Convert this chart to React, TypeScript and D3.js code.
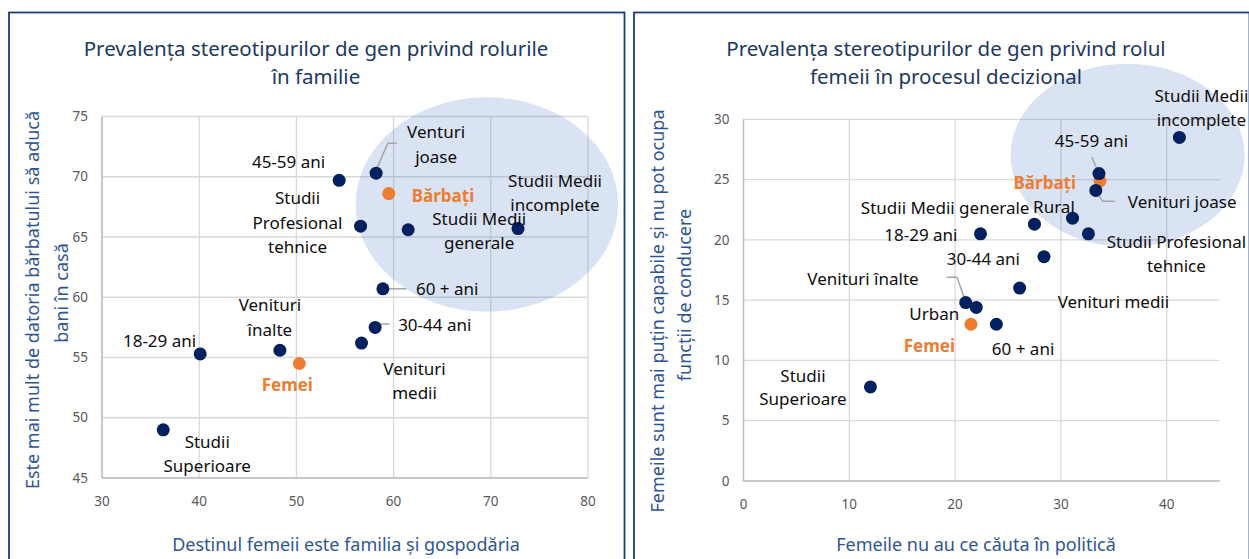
import { useEffect, useRef } from "react";
import * as d3 from "d3";

// Grafic 1: rolurile în familie
const familyGroups = [
	"45-59 ani", "Venturi joase", "Bărbați", "Studii Profesional tehnice",
	"Studii Medii generale", "Studii Medii incomplete", "60 + ani", "30-44 ani",
	"Venituri medii", "Venituri înalte", "18-29 ani", "Femei", "Studii Superioare"
];
const familyX = [54.4, 58.2, 59.5, 56.6, 61.5, 72.8, 58.9, 58.1, 56.7, 48.3, 40.1, 50.3, 36.3];
const familyY = [69.7, 70.3, 68.6, 65.9, 65.6, 65.7, 60.7, 57.5, 56.2, 55.6, 55.3, 54.5, 49.0];
const familyXTicks = [30, 40, 50, 60, 70, 80];
const familyYTicks = [45, 50, 55, 60, 65, 70, 75];

// Grafic 2: rolul femeii în procesul decizional
const decisionGroups = [
	"Studii Medii incomplete", "45-59 ani", "Bărbați", "Venituri joase", "Rural",
	"Studii Medii generale", "Studii Profesional tehnice", "18-29 ani", "30-44 ani",
	"Venituri medii", "Venituri înalte", "Urban", "Femei", "60 + ani", "Studii Superioare"
];
const decisionX = [41.2, 33.6, 33.7, 33.3, 31.1, 27.5, 32.6, 22.4, 28.4, 26.1, 21.0, 22.0, 21.5, 23.9, 12.0];
const decisionY = [28.5, 25.5, 24.9, 24.1, 21.8, 21.3, 20.5, 20.5, 18.6, 16.0, 14.8, 14.4, 13.0, 13.0, 7.8];
const decisionXTicks = [0, 10, 20, 30, 40];
const decisionYTicks = [0, 5, 10, 15, 20, 25, 30];

// highlighted series (orange)
const genderGroups = ["Bărbați", "Femei"];

type Label = {
	lines: string[];
	anchor: "start" | "middle" | "end";
	dx: number;
	dy: number;
	leader?: [number, number][];
};

// label placement, offsets in px from the point
const familyLabels: Record<string, Label> = {
	"45-59 ani": { lines: ["45-59 ani"], anchor: "end", dx: -14, dy: -18 },
	"Venturi joase": { lines: ["Venturi", "joase"], anchor: "middle", dx: 60, dy: -41, leader: [[0, -3], [11.7, -30], [20.7, -30]] },
	"Bărbați": { lines: ["Bărbați"], anchor: "start", dx: 23, dy: 2 },
	"Studii Profesional tehnice": { lines: ["Studii", "Profesional", "tehnice"], anchor: "middle", dx: -63, dy: -28 },
	"Studii Medii generale": { lines: ["Studii Medii", "generale"], anchor: "middle", dx: 71, dy: -11 },
	"Studii Medii incomplete": { lines: ["Studii Medii", "incomplete"], anchor: "middle", dx: 37, dy: -48 },
	"60 + ani": { lines: ["60 + ani"], anchor: "start", dx: 33, dy: 0, leader: [[0, 0], [23.5, 0]] },
	"30-44 ani": { lines: ["30-44 ani"], anchor: "start", dx: 23, dy: -2, leader: [[0, 0], [5, -3.4], [14.3, -3.4]] },
	"Venituri medii": { lines: ["Venituri", "medii"], anchor: "middle", dx: 53, dy: 26 },
	"Venituri înalte": { lines: ["Venituri", "înalte"], anchor: "middle", dx: -10, dy: -45 },
	"18-29 ani": { lines: ["18-29 ani"], anchor: "end", dx: -4, dy: -13 },
	"Femei": { lines: ["Femei"], anchor: "middle", dx: -12, dy: 22 },
	"Studii Superioare": { lines: ["Studii", "Superioare"], anchor: "middle", dx: 44, dy: 12 }
};

const decisionLabels: Record<string, Label> = {
	"Studii Medii incomplete": { lines: ["Studii Medii", "incomplete"], anchor: "middle", dx: 22, dy: -41 },
	"45-59 ani": { lines: ["45-59 ani"], anchor: "middle", dx: -7.5, dy: -33, leader: [[-7.3, -16.6], [-0.7, -1.6]] },
	"Bărbați": { lines: ["Bărbați"], anchor: "end", dx: -24, dy: 2 },
	"Venituri joase": { lines: ["Venituri joase"], anchor: "start", dx: 32, dy: 12, leader: [[0, 0], [6.7, 10.7], [19, 10.7]] },
	"Rural": { lines: ["Rural"], anchor: "middle", dx: -18.6, dy: -11.6 },
	"Studii Medii generale": { lines: ["Studii Medii generale"], anchor: "end", dx: -5, dy: -15.7 },
	"Studii Profesional tehnice": { lines: ["Studii Profesional", "tehnice"], anchor: "middle", dx: 88, dy: 8.4 },
	"18-29 ani": { lines: ["18-29 ani"], anchor: "end", dx: -23, dy: 1 },
	"30-44 ani": { lines: ["30-44 ani"], anchor: "end", dx: -24, dy: 2 },
	"Venituri medii": { lines: ["Venituri medii"], anchor: "start", dx: 38, dy: 14 },
	"Venituri înalte": { lines: ["Venituri înalte"], anchor: "end", dx: -47, dy: -23.5, leader: [[-19.2, -25.4], [-8.7, -25.4], [0, -1]] },
	"Urban": { lines: ["Urban"], anchor: "end", dx: -17, dy: 7 },
	"Femei": { lines: ["Femei"], anchor: "end", dx: -16, dy: 22 },
	"60 + ani": { lines: ["60 + ani"], anchor: "start", dx: -4.5, dy: 25 },
	"Studii Superioare": { lines: ["Studii", "Superioare"], anchor: "middle", dx: -67.5, dy: -11.3 }
};

const FONT = "'Noto Sans', sans-serif";
const NAVY = "#002060";
const ORANGE = "#ED7D31";

type Panel = {
	frameX: number;
	title: string[];
	titleX: number;
	xTitle: string;
	xTitleX: number;
	yTitle: { text: string; x: number; y: number }[];
	xDomain: [number, number];
	xRange: [number, number];
	yDomain: [number, number];
	yRange: [number, number];
	xTicks: number[];
	yTicks: number[];
	groups: string[];
	xs: number[];
	ys: number[];
	labels: Record<string, Label>;
	ellipse: { cx: number; cy: number; rx: number; ry: number };
	lineGap: number;
};

export default function App() {
	const ref = useRef<SVGSVGElement>(null);

	useEffect(() => {
		const svg = d3.select(ref.current);
		svg.selectAll("*").remove();

		const panels: Panel[] = [
			{
				frameX: 9,
				title: ["Prevalența stereotipurilor de gen privind rolurile", "în familie"],
				titleX: 316,
				xTitle: "Destinul femeii este familia și gospodăria",
				xTitleX: 346,
				yTitle: [
					{ text: "Este mai mult de datoria bărbatului să aducă", x: 33, y: 300 },
					{ text: "bani în casă", x: 62, y: 293 }
				],
				xDomain: [30, 80],
				xRange: [102, 588],
				yDomain: [45, 75],
				yRange: [478, 116.5],
				xTicks: familyXTicks,
				yTicks: familyYTicks,
				groups: familyGroups,
				xs: familyX,
				ys: familyY,
				labels: familyLabels,
				ellipse: { cx: 69.6, cy: 67.7, rx: 13.5, ry: 8.9 },
				lineGap: 24.5
			},
			{
				frameX: 634,
				title: ["Prevalența stereotipurilor de gen privind rolul", "femeii în procesul decizional"],
				titleX: 946,
				xTitle: "Femeile nu au ce căuta în politică",
				xTitleX: 976,
				yTitle: [
					{ text: "Femeile sunt mai puțin capabile și nu pot ocupa", x: 658, y: 311 },
					{ text: "funcții de conducere", x: 685, y: 295 }
				],
				xDomain: [0, 45],
				xRange: [743.5, 1219.6],
				yDomain: [0, 30],
				yRange: [481, 119.3],
				xTicks: decisionXTicks,
				yTicks: decisionYTicks,
				groups: decisionGroups,
				xs: decisionX,
				ys: decisionY,
				labels: decisionLabels,
				ellipse: { cx: 36.3, cy: 27.0, rx: 11.06, ry: 7.6 },
				lineGap: 23.5
			}
		];

		panels.forEach(p => {
			const g = svg.append("g").attr("font-family", FONT);

			// Frame
			g.append("rect")
				.attr("x", p.frameX)
				.attr("y", 12.5)
				.attr("width", 615.5)
				.attr("height", 600)
				.attr("fill", "#fff")
				.attr("stroke", "#1F3A78")
				.attr("stroke-width", 1.8);

			const x = d3.scaleLinear().domain(p.xDomain).range(p.xRange);
			const y = d3.scaleLinear().domain(p.yDomain).range(p.yRange);
			const [x0, x1] = p.xRange;
			const [y0, y1] = p.yRange;

			// Gridlines
			g.append("g")
				.selectAll("line")
				.data(p.yTicks)
				.enter()
				.append("line")
				.attr("x1", x0)
				.attr("x2", x1)
				.attr("y1", d => y(d))
				.attr("y2", d => y(d))
				.attr("stroke", "#d9d9d9")
				.attr("stroke-width", 1.3);

			g.append("g")
				.selectAll("line")
				.data(p.xTicks)
				.enter()
				.append("line")
				.attr("x1", d => x(d))
				.attr("x2", d => x(d))
				.attr("y1", y0)
				.attr("y2", y1)
				.attr("stroke", "#d9d9d9")
				.attr("stroke-width", 1.3);

			// Axis lines
			g.append("line")
				.attr("x1", x0).attr("x2", x1)
				.attr("y1", y0).attr("y2", y0)
				.attr("stroke", "#bfbfbf")
				.attr("stroke-width", 1.5);
			g.append("line")
				.attr("x1", x0).attr("x2", x0)
				.attr("y1", y0).attr("y2", y1)
				.attr("stroke", "#bfbfbf")
				.attr("stroke-width", 1.5);

			// Tick labels
			g.append("g")
				.selectAll("text")
				.data(p.xTicks)
				.enter()
				.append("text")
				.attr("x", d => x(d))
				.attr("y", y0 + 23)
				.attr("dy", "0.35em")
				.attr("text-anchor", "middle")
				.attr("font-size", "13.5px")
				.attr("fill", "#595959")
				.text(d => d);

			g.append("g")
				.selectAll("text")
				.data(p.yTicks)
				.enter()
				.append("text")
				.attr("x", x0 - 14)
				.attr("y", d => y(d))
				.attr("dy", "0.35em")
				.attr("text-anchor", "end")
				.attr("font-size", "13.5px")
				.attr("fill", "#595959")
				.text(d => d);

			// Highlight ellipse
			g.append("ellipse")
				.attr("cx", x(p.ellipse.cx))
				.attr("cy", y(p.ellipse.cy))
				.attr("rx", x(p.ellipse.cx + p.ellipse.rx) - x(p.ellipse.cx))
				.attr("ry", y(p.ellipse.cy) - y(p.ellipse.cy + p.ellipse.ry))
				.attr("fill", "#4472C4")
				.attr("fill-opacity", 0.2);

			const pts = p.groups.map((name, i) => ({
				name,
				px: x(p.xs[i]),
				py: y(p.ys[i]),
				gender: genderGroups.includes(name)
			}));

			// Leader lines
			pts.forEach(d => {
				const lab = p.labels[d.name];
				if (!lab || !lab.leader) return;
				g.append("path")
					.attr("d", d3.line()(lab.leader.map(([a, b]) => [d.px + a, d.py + b])))
					.attr("fill", "none")
					.attr("stroke", "#a6a6a6")
					.attr("stroke-width", 1.5);
			});

			// Points: gender series first, then groups
			const ordered = [...pts.filter(d => d.gender), ...pts.filter(d => !d.gender)];
			g.append("g")
				.selectAll("circle")
				.data(ordered)
				.enter()
				.append("circle")
				.attr("cx", d => d.px)
				.attr("cy", d => d.py)
				.attr("r", 6.5)
				.attr("fill", d => (d.gender ? ORANGE : NAVY));

			// Data labels
			pts.forEach(d => {
				const lab = p.labels[d.name];
				if (!lab) return;
				const t = g.append("text")
					.attr("text-anchor", lab.anchor)
					.attr("font-size", "17px")
					.attr("font-weight", d.gender ? 700 : 400)
					.attr("fill", d.gender ? ORANGE : "#0d0d0d");
				lab.lines.forEach((line, k) => {
					t.append("tspan")
						.attr("x", d.px + lab.dx)
						.attr("y", d.py + lab.dy + k * p.lineGap)
						.attr("dy", "0.35em")
						.text(line);
				});
			});

			// Title
			p.title.forEach((line, k) => {
				g.append("text")
					.attr("x", p.titleX)
					.attr("y", 49 + k * 28)
					.attr("dy", "0.35em")
					.attr("text-anchor", "middle")
					.attr("font-size", "20.5px")
					.attr("fill", "#203864")
					.text(line);
			});

			// Axis titles
			g.append("text")
				.attr("x", p.xTitleX)
				.attr("y", 545)
				.attr("dy", "0.35em")
				.attr("text-anchor", "middle")
				.attr("font-size", "18px")
				.attr("fill", "#2F5597")
				.text(p.xTitle);

			p.yTitle.forEach(t => {
				g.append("text")
					.attr("transform", `translate(${t.x},${t.y}) rotate(-90)`)
					.attr("dy", "0.35em")
					.attr("text-anchor", "middle")
					.attr("font-size", "18px")
					.attr("fill", "#2F5597")
					.text(t.text);
			});
		});
	}, []);

	return (
		<svg
			ref={ref}
			width={1249}
			height={559}
			style={{ position: "absolute", left: 0, top: 0, background: "#fff" }}
		/>
	);
}
